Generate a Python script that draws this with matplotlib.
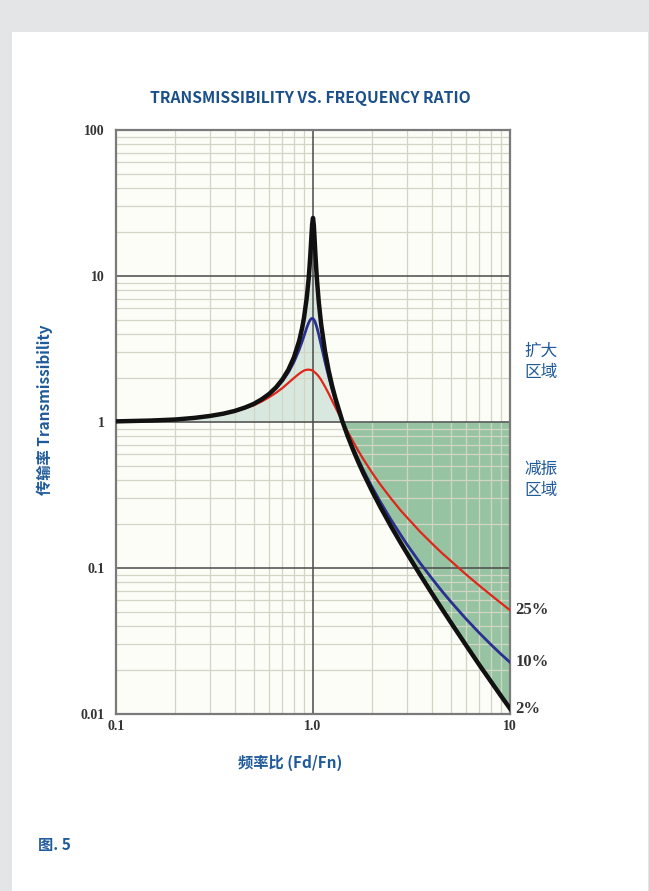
import matplotlib
matplotlib.use('Agg')
import matplotlib.pyplot as plt
from matplotlib.patches import Rectangle
from matplotlib.ticker import LogLocator, NullFormatter, FixedLocator, FixedFormatter
import numpy as np

# frequency ratio Fd/Fn and transmissibility
ratio = [0.1, 0.15, 0.2, 0.25, 0.3, 0.35, 0.4, 0.45, 0.5, 0.55, 0.6, 0.65, 0.7, 0.75,
         0.8, 0.85, 0.88, 0.9, 0.93, 0.95, 0.96, 0.97, 0.98, 0.99, 1.0, 1.01, 1.02, 1.03,
         1.04, 1.05, 1.07, 1.1, 1.15, 1.2, 1.25, 1.3, 1.41, 1.5, 1.6, 1.7, 1.8, 2.0, 2.2,
         2.5, 2.8, 3.0, 3.5, 4.0, 4.5, 5.0, 6.0, 7.0, 8.0, 9.0, 10.0]
t_02 = [1.01, 1.023, 1.04, 1.067, 1.10, 1.14, 1.19, 1.254, 1.33, 1.433, 1.56, 1.730, 1.96, 2.281,
        2.77, 3.58, 4.38, 5.17, 7.14, 9.56, 11.5, 14.2, 18.0, 22.6, 25.0, 22.2, 17.4, 13.6,
        10.9, 9.04, 6.62, 4.67, 3.07, 2.26, 1.77, 1.45, 1.01, 0.80, 0.642, 0.530, 0.447, 0.334, 0.261,
        0.191, 0.147, 0.126, 0.0898, 0.0675, 0.0528, 0.0425, 0.0294, 0.0216, 0.0167, 0.0133, 0.0109]
t_10 = [1.01, 1.023, 1.04, 1.067, 1.10, 1.139, 1.19, 1.251, 1.33, 1.425, 1.55, 1.704, 1.91, 2.186,
        2.57, 3.12, 3.55, 3.88, 4.43, 4.77, 4.91, 5.02, 5.10, 5.12, 5.10, 5.03, 4.91, 4.75,
        4.57, 4.37, 3.96, 3.37, 2.59, 2.05, 1.67, 1.40, 1.01, 0.812, 0.659, 0.550, 0.469, 0.356, 0.283,
        0.212, 0.167, 0.145, 0.108, 0.0853, 0.0698, 0.0589, 0.0446, 0.0358, 0.0299, 0.0257, 0.0226]
t_25 = [1.01, 1.023, 1.04, 1.066, 1.10, 1.135, 1.18, 1.237, 1.30, 1.383, 1.48, 1.587, 1.71, 1.854,
        2.00, 2.14, 2.21, 2.25, 2.28, 2.283, 2.28, 2.275, 2.27, 2.252, 2.24, 2.217, 2.19, 2.169,
        2.14, 2.112, 2.05, 1.94, 1.75, 1.57, 1.40, 1.26, 1.01, 0.858, 0.731, 0.633, 0.557, 0.447, 0.372,
        0.297, 0.246, 0.222, 0.177, 0.148, 0.127, 0.112, 0.0900, 0.0756, 0.0653, 0.0575, 0.0514]
pct_labels = ['25%', '10%', '2%']
y_ticks = [0.01, 0.1, 1, 10, 100]
y_ticklabels = ['0.01', '0.1', '1', '10', '100']
x_ticks = [0.1, 1, 10]
x_ticklabels = ['0.1', '1.0', '10']

blue = '#1f5a9a'
cjk = ['Noto Sans CJK SC', 'DejaVu Sans']

fig = plt.figure(figsize=(6.49, 8.91), dpi=100)
fig.patch.set_facecolor('#e4e5e7')
# white card
fig.patches.append(Rectangle((12/649, 0), (648-12)/649, 1-32/891, transform=fig.transFigure,
                             facecolor='white', edgecolor='none', zorder=-5))

ax = fig.add_axes([116/649, 1-714/891, (510-116)/649, (714-130)/891])
ax.set_zorder(2)
ax.set_facecolor('#fdfdf8')
ax.set_xscale('log')
ax.set_yscale('log')
ax.set_xlim(0.1, 10)
ax.set_ylim(0.01, 100)

x = np.array(ratio)
tb = np.array(t_02)
ax.fill_between(x, 1, tb, where=x <= 1.41, color='#d9e8de', lw=0, zorder=1)
ax.fill_between(x, tb, 1, where=x >= 1.41, color='#96c4a2', lw=0, zorder=1)

ax.plot(ratio, t_25, color='#e0251b', lw=1.6, zorder=3)
ax.plot(ratio, t_10, color='#2b2f8f', lw=2.0, zorder=3)
ax.plot(ratio, t_02, color='#111111', lw=3.2, zorder=4)

# grid: light minor lines, dark lines on the decades
ax.set_axisbelow('line')
ax.xaxis.set_major_locator(FixedLocator(x_ticks))
ax.xaxis.set_major_formatter(FixedFormatter(x_ticklabels))
ax.yaxis.set_major_locator(FixedLocator(y_ticks))
ax.yaxis.set_major_formatter(FixedFormatter(y_ticklabels))
ax.xaxis.set_minor_locator(LogLocator(base=10, subs=np.arange(2, 10)))
ax.yaxis.set_minor_locator(LogLocator(base=10, subs=np.arange(2, 10)))
ax.xaxis.set_minor_formatter(NullFormatter())
ax.yaxis.set_minor_formatter(NullFormatter())
ax.grid(which='minor', color='#d2d5c4', lw=0.9)
for yv in y_ticks[1:-1]:
    ax.axhline(yv, color='#4a4a4a', lw=1.1, zorder=1.7)
ax.axvline(x_ticks[1], color='#4a4a4a', lw=1.1, zorder=1.7)
ax.tick_params(which='both', length=0)
ax.tick_params(axis='y', pad=8)
ax.tick_params(axis='x', pad=4)
for lab in ax.get_xticklabels() + ax.get_yticklabels():
    lab.set_fontfamily('Liberation Serif')
    lab.set_fontweight('bold')
    lab.set_fontsize(10)
    lab.set_color('#333333')
for s in ax.spines.values():
    s.set_color('#7a7a7a')
    s.set_linewidth(1.6)

# percent labels at the right end of each curve
for lab, yv in zip(pct_labels, [t_25[-1], t_10[-1], t_02[-1]]):
    ax.annotate(lab, xy=(10, yv), xytext=(4, 0), textcoords='offset points',
                ha='left', va='center', fontsize=12, fontweight='bold',
                family='Liberation Serif', color='#333333', annotation_clip=False)

fig.text(310/649, 1-98/891, 'TRANSMISSIBILITY VS. FREQUENCY RATIO', ha='center', va='center',
         fontsize=11.3, fontweight='bold', color='#1b4f8a', family=cjk)
fig.text(45/649, 1-410/891, '传输率 Transmissibility', rotation=90, ha='center', va='center',
         fontsize=11, fontweight='bold', color=blue, family=cjk)
fig.text(290/649, 1-763/891, '频率比 (Fd/Fn)', ha='center', va='center',
         fontsize=11, fontweight='bold', color=blue, family=cjk)
fig.text(541/649, 1-362/891, '扩大\n区域', ha='center', va='center', linespacing=1.3,
         fontsize=12, color=blue, family=cjk)
fig.text(541/649, 1-480/891, '减振\n区域', ha='center', va='center', linespacing=1.3,
         fontsize=12, color=blue, family=cjk)
fig.text(38/649, 1-845/891, '图. 5', ha='left', va='center',
         fontsize=11, fontweight='bold', color=blue, family=cjk)

plt.savefig('out.png', dpi=100)
